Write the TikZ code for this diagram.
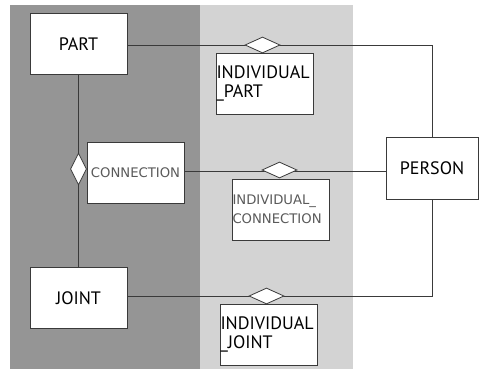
\documentclass[tikz,border=0pt]{standalone}
\usepackage{fontspec}
\setmainfont{PT Sans}
\newfontfamily\thinfont{DejaVu Sans}
\usetikzlibrary{shapes.geometric}
\definecolor{darkbg}{HTML}{959595}
\definecolor{lightbg}{HTML}{D3D3D3}
\definecolor{linec}{HTML}{3A3A3A}
\definecolor{thintext}{HTML}{5A5A5A}
\tikzset{
  ent/.style={draw=linec, line width=0.8pt, fill=white, minimum width=97pt, minimum height=61pt, inner sep=0pt, font=\fontsize{18}{16}\selectfont},
  entl/.style={ent, align=left, text width=96pt, font=\fontsize{18}{19}\selectfont},
  entthin/.style={ent, align=left, text width=96pt, text=thintext, font=\thinfont\fontsize{13.2}{19}\selectfont},
  conn/.style={draw=linec, line width=0.8pt},
  dia/.style={diamond, draw=linec, line width=0.8pt, fill=white, inner sep=0pt, minimum width=35pt, minimum height=16pt},
  diav/.style={diamond, draw=linec, line width=0.8pt, fill=white, inner sep=0pt, minimum width=16pt, minimum height=32pt}
}
\begin{document}
\begin{tikzpicture}[x=1pt,y=-1pt]
\useasboundingbox (0,0) rectangle (479,369);
\fill[darkbg] (10,5) rectangle (200,369);
\fill[lightbg] (200,5) rectangle (353,369);
% coordinates of connector levels
\coordinate (ytop) at (0,45);
\coordinate (ymid) at (0,171);
\coordinate (ybot) at (0,296);
% entities
\node[ent] (part) at (78.5,44) {PART};
\node[ent] (joint) at (78.5,298) {JOINT};
\node[ent, minimum width=92pt, minimum height=62pt] (person) at (432,168) {PERSON};
\node[entthin] (connection) at (135.5,173) {\hfill CONNECTION\hfill\null};
\node[entl] (ipart) at (264.5,83.5) {INDIVIDUAL\\\_PART};
\node[entthin] (iconn) at (280.5,209.5) {INDIVIDUAL\_\\CONNECTION};
\node[entl] (ijoint) at (268.5,334.5) {INDIVIDUAL\\\_JOINT};
% connectors
\draw[conn] (part.south) -- (joint.north);
\draw[conn] (part.east |- ytop) -- (person.north |- ytop) -- (person.north);
\draw[conn] (connection.east |- ymid) -- (person.west |- ymid);
\draw[conn] (joint.east |- ybot) -- (person.south |- ybot) -- (person.south);
% diamonds
\node[dia] (d1) at (262.5,45) {};
\node[dia] (d2) at (279.5,170) {};
\node[dia] (d3) at (266.5,296) {};
\node[diav] (d4) at (78.5,169) {};
\end{tikzpicture}
\end{document}
